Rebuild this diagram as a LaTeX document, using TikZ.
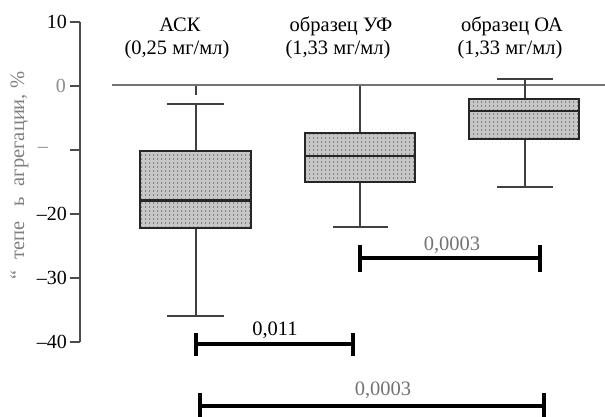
\documentclass[tikz,border=0pt]{standalone}
\usepackage{fontspec}
\setmainfont{Liberation Serif}
\usetikzlibrary{patterns.meta}
\tikzdeclarepattern{
  name=boxdots,
  type=uncolored,
  bottom left={(0pt,0pt)},
  top right={(4pt,4.4pt)},
  tile size={(4pt,4.4pt)},
  code={\fill (2pt,2.2pt) circle (0.9pt);}
}
\tikzset{
  ax/.style={line width=2.4pt, draw=black!70},
  zl/.style={line width=2pt, draw=black!55},
  bxn/.style={draw=black!85, line width=2.2pt, rectangle, inner sep=0pt,
     preaction={fill=black!22}, pattern=boxdots, pattern color=black!60},
  md/.style={line width=2.2pt, draw=black!85},
  wh/.style={line width=2pt, draw=black!75},
  sig/.style={line width=4.5pt, draw=black},
  txt/.style={font=\fontsize{20.5}{24}\selectfont, inner sep=0pt, anchor=base},
  tick/.style={font=\fontsize{20}{24}\selectfont, inner sep=0pt, anchor=east},
  ylab/.style={font=\fontsize{20.5}{24}\selectfont, inner sep=0pt, anchor=base, rotate=90, text=black!50}
}
\begin{document}
\begin{tikzpicture}[x=1pt,y=-1pt]
\useasboundingbox (0,0) rectangle (605,417);

% headers
\node[txt] (h1a) at (180,32) {АСК};
\node[txt] (h1b) at (177,55) {(0,25 мг/мл)};
\node[txt] (h2a) at (341,32) {образец УФ};
\node[txt] (h2b) at (338,55) {(1,33 мг/мл)};
\node[txt] (h3a) at (512,32) {образец ОА};
\node[txt] (h3b) at (510,55) {(1,33 мг/мл)};

% y axis
\coordinate (atop) at (80,22);
\coordinate (abot) at (80,342);
\draw[ax] (atop) -- (abot);
\foreach \yy in {22,86,150,214,278,342} \draw[ax] (70,\yy) -- (80,\yy);
\node[tick] (t10) at (67,22) {10};
\node[tick, text=black!45] (t0) at (66,86) {0};
\node[tick, text=black!45] (tm) at (48,150) {–};
\node[tick] (t20) at (67,214) {–20};
\node[tick] (t30) at (67,278) {–30};
\node[tick] (t40) at (67,342) {–40};

% y label
\node[ylab] (yl1) at (24,129) {агрегации, \%};
\node[ylab] (yl2) at (24,202) {ь};
\node[ylab] (yl3) at (24,240) {тепе};
\node[ylab] (yl4) at (24,275) {“};

% zero line
\coordinate (z0) at (112,85.5);
\coordinate (z1) at (605,85.5);
\draw[zl] (z0) -- (z1);

% box 1
\coordinate (w1t) at (196,104);
\coordinate (w1b) at (196,316);
\draw[wh] (196,86) -- (196,95);
\draw[wh] (w1t) -- (196,151);
\draw[wh] (167,104) -- (224,104);
\draw[wh] (196,228) -- (w1b);
\draw[wh] (167,316) -- (224,316);
\node[bxn, minimum width=111pt, minimum height=77pt] (b1) at (195.5,189.5) {};
\draw[md] (140,200.5) -- (251,200.5);

% box 2
\coordinate (w2t) at (360,86);
\coordinate (w2b) at (360,227);
\draw[wh] (w2t) -- (360,133);
\draw[wh] (360,182) -- (w2b);
\draw[wh] (333,227) -- (388,227);
\node[bxn, minimum width=110pt, minimum height=49pt] (b2) at (360,157.5) {};
\draw[md] (305,156) -- (415,156);

% box 3
\coordinate (w3t) at (525,79);
\coordinate (w3b) at (525,187);
\draw[wh] (w3t) -- (525,99);
\draw[wh] (497,79) -- (553,79);
\draw[wh] (525,139) -- (w3b);
\draw[wh] (497,187) -- (553,187);
\node[bxn, minimum width=110pt, minimum height=40pt] (b3) at (524,119) {};
\draw[md] (469,111) -- (579,111);

% significance bars
\coordinate (sa1) at (196,344); \coordinate (sa2) at (353,344);
\draw[sig] (sa1) -- (sa2);
\draw[sig] (196,333) -- (196,356);
\draw[sig] (353,333) -- (353,356);
\node[txt] (pa) at (275,335) {0,011};

\coordinate (sb1) at (360,258); \coordinate (sb2) at (540,258);
\draw[sig] (sb1) -- (sb2);
\draw[sig] (360,245) -- (360,272);
\draw[sig] (540,245) -- (540,272);
\node[txt, text=black!55] (pb) at (452,250) {0,0003};

\coordinate (sc1) at (200,406); \coordinate (sc2) at (544,406);
\draw[sig] (sc1) -- (sc2);
\draw[sig] (200,393) -- (200,417);
\draw[sig] (544,393) -- (544,417);
\node[txt, text=black!55] (pc) at (383,395) {0,0003};
\end{tikzpicture}
\end{document}
